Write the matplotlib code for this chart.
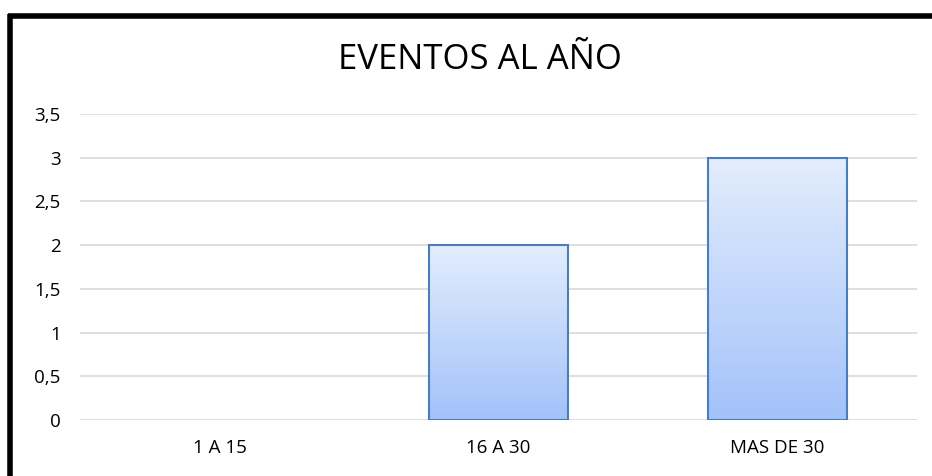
import numpy as np
import matplotlib.pyplot as plt
from matplotlib.lines import Line2D

plt.rcParams['font.family'] = ['Open Sans', 'DejaVu Sans']

categories = ["1 A 15", "16 A 30", "MAS DE 30"]
values = [0, 2, 3]
yticks = [0, 0.5, 1, 1.5, 2, 2.5, 3, 3.5]
ytick_labels = ["0", "0,5", "1", "1,5", "2", "2,5", "3", "3,5"]

W, H = 932, 476
fig = plt.figure(figsize=(W / 100, H / 100), dpi=100)
ax = fig.add_axes([80 / W, 1 - 420 / H, (917 - 80) / W, (420 - 114) / H])

x = np.arange(len(categories))
# zero-height bars get no outline
edges = ["#4a7ebb" if v > 0 else "none" for v in values]
bars = ax.bar(x, values, width=0.5, facecolor="none", edgecolor=edges,
              linewidth=1.5, zorder=3)

# vertical gradient fill clipped to each bar
grad = np.linspace(0, 1, 256).reshape(-1, 1)
top = np.array([0.89, 0.93, 0.99])
bot = np.array([0.64, 0.76, 0.98])
img = (top + (bot - top) * grad[..., None]).reshape(256, 1, 3)
for b in bars:
    if b.get_height() <= 0:
        continue
    x0, w, h = b.get_x(), b.get_width(), b.get_height()
    im = ax.imshow(img, extent=[x0, x0 + w, 0, h], aspect="auto",
                   origin="upper", zorder=2)
    im.set_clip_path(b)

ax.set_xlim(-0.5, len(categories) - 0.5)
ax.set_ylim(0, 3.5)
ax.set_yticks(yticks)
ax.set_yticklabels(ytick_labels)
ax.set_xticks(x)
ax.set_xticklabels(categories)
ax.tick_params(length=0, labelsize=13.5, colors="#000000")
ax.tick_params(axis="y", pad=14)
ax.tick_params(axis="x", pad=14)
ax.grid(axis="y", color="#d9d9d9", linewidth=1.2, zorder=0)
for s in ax.spines.values():
    s.set_visible(False)

fig.text(480 / W, 1 - 60 / H, "EVENTOS AL AÑO", ha="center", va="center",
         fontsize=25, color="#000000")

# thick black frame on top and left
fig.add_artist(Line2D([8 / W, 1.0], [1 - 15.5 / H, 1 - 15.5 / H],
                      transform=fig.transFigure, color="black", linewidth=4,
                      solid_capstyle="butt"))
fig.add_artist(Line2D([10 / W, 10 / W], [0, 1 - 13.5 / H],
                      transform=fig.transFigure, color="black", linewidth=4,
                      solid_capstyle="butt"))

fig.savefig("out.png", dpi=100)
